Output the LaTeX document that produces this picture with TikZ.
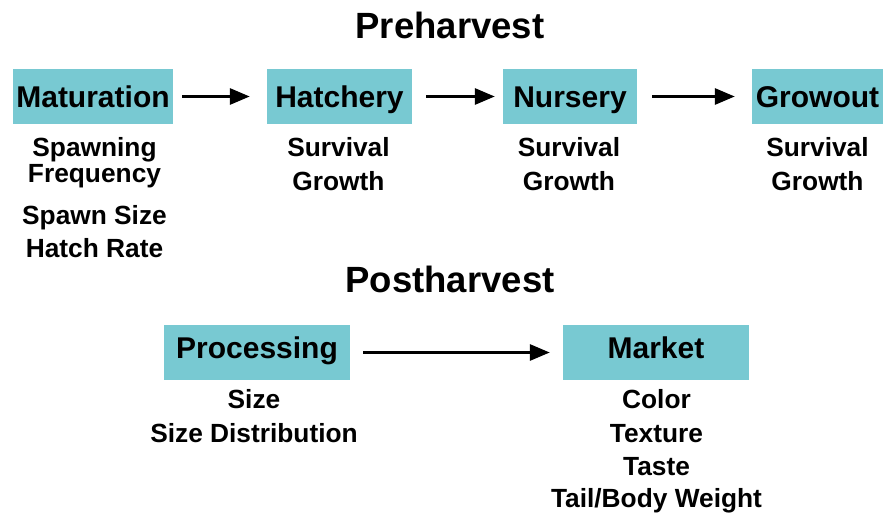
\documentclass[tikz,border=0pt]{standalone}
\usepackage{fontspec}
\setmainfont{Liberation Sans}
\usetikzlibrary{arrows.meta}
\definecolor{boxteal}{HTML}{78C9D2}
\tikzset{
  stagebox/.style={fill=boxteal, draw=none, inner sep=0pt, minimum height=55pt,
    font=\fontsize{30}{36}\selectfont\bfseries, text height=21.5pt, text depth=0pt},
  postbox/.style={stagebox, text depth=10pt},
  title/.style={anchor=base, inner sep=0pt, font=\fontsize{36.5}{42}\selectfont\bfseries},
  sub/.style={anchor=base, inner sep=0pt, font=\fontsize{26.3}{30}\selectfont\bfseries},
  arr/.style={draw=black, line width=3pt, -{Triangle[length=20pt, width=16pt]}}
}
\begin{document}
\begin{tikzpicture}[x=1pt, y=-1pt]
\useasboundingbox (0,0) rectangle (883,513);
% titles
\node[title] (pre) at (450,39) {Preharvest};
\node[title] (post) at (450,292) {Postharvest};
% preharvest boxes
\node[stagebox, minimum width=160pt] (mat) at (93,96.5) {Maturation};
\node[stagebox, minimum width=145pt] (hat) at (339.5,96.5) {Hatchery};
\node[stagebox, minimum width=134pt] (nur) at (570,96.5) {Nursery};
\node[stagebox, minimum width=131pt] (gro) at (817.5,96.5) {Growout};
% postharvest boxes
\node[postbox, minimum width=186pt] (pro) at (257,352.5) {Processing};
\node[postbox, minimum width=186pt] (mar) at (656,352.5) {Market};
% arrows
\draw[arr, shorten <=9pt, shorten >=17pt] (mat.east) -- (hat.west);
\draw[arr, shorten <=14pt, shorten >=8pt] (hat.east) -- (nur.west);
\draw[arr, shorten <=15pt, shorten >=17pt] (nur.east) -- (gro.west);
\draw[arr, shorten <=13pt, shorten >=13pt] (pro.east) -- (mar.west);
% maturation attributes
\node[sub] (m1) at (94.5,157) {Spawning};
\node[sub] (m2) at (94.5,183) {Frequency};
\node[sub] (m3) at (94.5,225) {Spawn Size};
\node[sub] (m4) at (94.5,257) {Hatch Rate};
% hatchery
\node[sub] (h1) at (338.5,157) {Survival};
\node[sub] (h2) at (338.5,190) {Growth};
% nursery
\node[sub] (n1) at (569,157) {Survival};
\node[sub] (n2) at (569,190) {Growth};
% growout
\node[sub] (g1) at (817.5,157) {Survival};
\node[sub] (g2) at (817.5,190) {Growth};
% processing
\node[sub] (p1) at (254,408) {Size};
\node[sub] (p2) at (254,442) {Size Distribution};
% market
\node[sub] (k1) at (656.5,408) {Color};
\node[sub] (k2) at (656.5,442) {Texture};
\node[sub] (k3) at (656.5,475) {Taste};
\node[sub] (k4) at (656.5,507) {Tail/Body Weight};
\end{tikzpicture}
\end{document}
